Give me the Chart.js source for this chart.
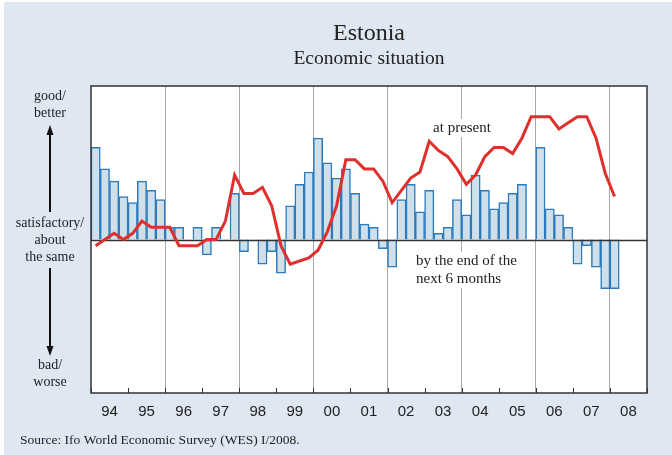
<!DOCTYPE html>
<html>
<head>
<meta charset="utf-8">
<script src="https://cdn.jsdelivr.net/npm/chart.js@4.4.1/dist/chart.umd.min.js"></script>
<style>
  html, body { margin: 0; padding: 0; background: #fff; }
  canvas { display: block; }
</style>
</head>
<body>
<canvas id="chart" width="672" height="455"></canvas>
<script>
// Ifo WES: Estonia, economic situation, quarterly 1994 Q1 - 2008 Q1
const years = [1994, 1995, 1996, 1997, 1998, 1999, 2000, 2001, 2002, 2003, 2004, 2005, 2006, 2007, 2008];
const yearLabels = ["94", "95", "96", "97", "98", "99", "00", "01", "02", "03", "04", "05", "06", "07", "08"];
const gridYears = [1996, 1998, 2000, 2002, 2004, 2006, 2008];

// expectations: by the end of the next 6 months (bars)
const nextSixMonths = [
  60, 46, 38, 28,   24, 38, 32, 26,   8, 8, 0, 8,      -10, 8, 0, 30,
  -8, 0, -16, -8,   -22, 22, 36, 44,  66, 50, 40, 46,   30, 10, 8, -6,
  -18, 26, 36, 18,  32, 4, 8, 26,     16, 42, 32, 20,   24, 30, 36, 0,
  60, 20, 16, 8,    -16, -4, -18, -32, -32
];

// assessment at present (line)
const atPresent = [
  -4, 0, 4, 0,      4, 12, 8, 8,      8, -4, -4, -4,    0, 0, 12, 42,
  30, 30, 34, 22,   -4, -16, -14, -12, -7, 5, 22, 52,   52, 46, 46, 38,
  24, 32, 40, 44,   64, 58, 54, 46,   36, 42, 54, 60,   60, 56, 66, 80,
  80, 80, 72, 76,   80, 80, 66, 43,   28
];

const quarterLabels = [];
years.forEach(y => { for (let q = 1; q <= 4; q++) quarterLabels.push(y + " Q" + q); });
const yearTicks = years.concat([years[years.length - 1] + 1]);

const BG = "#dfe7f3";
const serif = "'Liberation Serif', 'Times New Roman', serif";

function arrow(ctx, x, y0, y1) {
  // shaft from y0 to y1, head at y1
  const dir = y1 < y0 ? -1 : 1;
  ctx.beginPath();
  ctx.moveTo(x, y0);
  ctx.lineTo(x, y1 - dir * 8);
  ctx.stroke();
  ctx.beginPath();
  ctx.moveTo(x, y1);
  ctx.lineTo(x - 3.5, y1 - dir * 10);
  ctx.lineTo(x + 3.5, y1 - dir * 10);
  ctx.closePath();
  ctx.fill();
}

function boxedText(ctx, text, x, y, align) {
  const w = ctx.measureText(text).width;
  const left = align === "center" ? x - w / 2 : x;
  ctx.fillStyle = "#fff";
  ctx.fillRect(left - 2, y - 9, w + 4, 18);
  ctx.fillStyle = "#222";
  ctx.textAlign = align;
  ctx.fillText(text, x, y);
}

const decor = {
  id: "decor",
  beforeDraw(chart) {
    const { ctx, chartArea: a } = chart;
    ctx.save();
    ctx.fillStyle = "#fff";
    ctx.fillRect(0, 0, chart.width, chart.height);
    ctx.fillStyle = BG;
    ctx.fillRect(4, 2, chart.width - 4, chart.height - 2);
    ctx.fillStyle = "#fff";
    ctx.fillRect(a.left, a.top, a.right - a.left, a.bottom - a.top);
    ctx.restore();
  },
  beforeDatasetsDraw(chart) {
    const { ctx } = chart;
    ctx.save();
    ctx.font = "15px " + serif;
    ctx.textBaseline = "middle";
    boxedText(ctx, "at present", 462, 128, "center");
    boxedText(ctx, "by the end of the", 416, 261, "left");
    boxedText(ctx, "next 6 months", 416, 279, "left");
    ctx.restore();
  },
  afterDatasetDraw(chart, args) {
    if (args.meta.type !== "bar") return;
    const { ctx, chartArea: a, scales } = chart;
    const y0 = Math.round(scales.y.getPixelForValue(0)) + 0.5;
    ctx.save();
    ctx.strokeStyle = "#333";
    ctx.lineWidth = 1.5;
    ctx.beginPath();
    ctx.moveTo(a.left, y0);
    ctx.lineTo(a.right, y0);
    ctx.stroke();
    ctx.restore();
  },
  afterDraw(chart) {
    const { ctx, chartArea: a, scales } = chart;
    ctx.save();
    // plot frame
    ctx.strokeStyle = "#333";
    ctx.lineWidth = 1.5;
    ctx.strokeRect(a.left, a.top, a.right - a.left, a.bottom - a.top);
    // inward year ticks
    ctx.lineWidth = 1;
    scales.years.ticks.forEach(t => {
      const x = Math.round(scales.years.getPixelForValue(t.value)) + 0.5;
      ctx.beginPath();
      ctx.moveTo(x, a.bottom);
      ctx.lineTo(x, a.bottom - 5);
      ctx.stroke();
    });

    // titles
    const cx = (a.left + a.right) / 2;
    ctx.fillStyle = "#222";
    ctx.textAlign = "center";
    ctx.textBaseline = "middle";
    ctx.font = "24px " + serif;
    ctx.fillText("Estonia", cx, 34);
    ctx.font = "19.5px " + serif;
    ctx.fillText("Economic situation", cx, 59);

    // side scale description
    ctx.font = "14px " + serif;
    [["good/", 96], ["better", 113], ["satisfactory/", 223], ["about", 240],
     ["the same", 257], ["bad/", 365], ["worse", 382]].forEach(([s, y]) => ctx.fillText(s, 50, y));
    ctx.strokeStyle = "#111";
    ctx.fillStyle = "#111";
    ctx.lineWidth = 2;
    arrow(ctx, 50, 212, 125);
    arrow(ctx, 50, 268, 356);

    // source
    ctx.fillStyle = "#222";
    ctx.textAlign = "left";
    ctx.font = "13.5px " + serif;
    ctx.fillText("Source: Ifo World Economic Survey (WES) I/2008.", 20, 440);
    ctx.restore();
  }
};

new Chart(document.getElementById("chart"), {
  data: {
    labels: quarterLabels,
    datasets: [
      {
        type: "line",
        label: "at present",
        data: atPresent,
        borderColor: "#e0302e",
        borderWidth: 3,
        pointRadius: 0,
        tension: 0,
        order: 0
      },
      {
        type: "bar",
        label: "by the end of the next 6 months",
        data: nextSixMonths,
        backgroundColor: "#cfe0ea",
        borderColor: "#2b7bbd",
        borderWidth: 1.5,
        barPercentage: 1,
        categoryPercentage: 1,
        order: 1
      }
    ]
  },
  options: {
    responsive: false,
    devicePixelRatio: 1,
    animation: false,
    layout: { padding: { left: 91, right: 25, top: 86, bottom: 24 } },
    plugins: { legend: { display: false }, tooltip: { enabled: false } },
    scales: {
      x: { type: "category", display: false, offset: true },
      y: { type: "linear", display: false, min: -100, max: 100 },
      years: {
        type: "linear",
        position: "bottom",
        min: yearTicks[0],
        max: yearTicks[yearTicks.length - 1],
        afterBuildTicks: axis => { axis.ticks = yearTicks.map(v => ({ value: v })); },
        ticks: {
          autoSkip: false,
          maxRotation: 0,
          padding: 10,
          labelOffset: 18.5,
          color: "#222",
          font: { family: "'Liberation Sans', Arial, sans-serif", size: 15 },
          callback: (v, i) => yearLabels[i] || ""
        },
        grid: {
          drawTicks: false,
          lineWidth: 1,
          color: c => (c.tick && gridYears.includes(c.tick.value)) ? "#a9a9a9" : "rgba(0,0,0,0)"
        },
        border: { display: false }
      }
    }
  },
  plugins: [decor]
});
</script>
</body>
</html>
